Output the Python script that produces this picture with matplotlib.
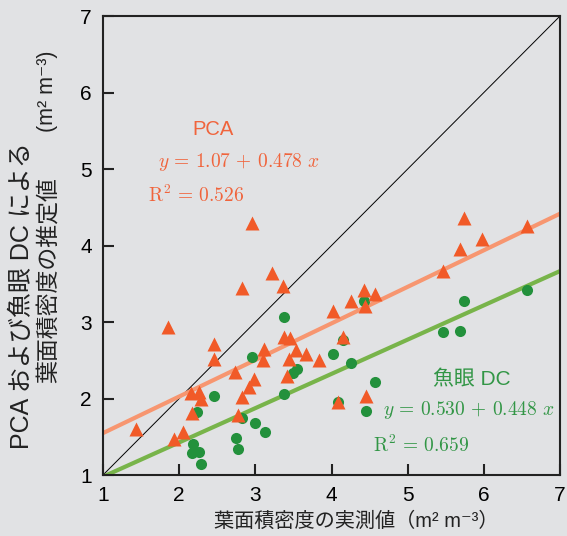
import matplotlib
matplotlib.use('Agg')
import matplotlib.pyplot as plt
import numpy as np

plt.rcParams['font.family'] = ['Liberation Sans', 'Noto Sans CJK JP', 'DejaVu Sans']
plt.rcParams['mathtext.fontset'] = 'cm'

# PCA estimates (triangles)
pca_x = [2.96, 3.22, 3.36, 2.83, 1.85, 2.46, 2.46, 3.37, 3.46, 3.12, 3.10, 3.44, 3.54,
         2.73, 2.98, 2.91, 3.42, 2.16, 2.26, 2.28, 2.82, 2.17, 2.77, 1.43, 2.05, 1.93,
         4.43, 4.57, 4.26, 4.44, 4.02, 4.15, 3.66, 3.83, 4.08, 4.45,
         5.74, 5.98, 5.69, 5.47, 6.57]
pca_y = [4.30, 3.64, 3.47, 3.45, 2.94, 2.71, 2.51, 2.81, 2.79, 2.65, 2.50, 2.51, 2.63,
         2.34, 2.26, 2.15, 2.29, 2.07, 2.09, 1.99, 2.02, 1.81, 1.78, 1.60, 1.56, 1.47,
         3.42, 3.36, 3.28, 3.21, 3.14, 2.81, 2.58, 2.50, 1.95, 2.03,
         4.36, 4.09, 3.96, 3.67, 4.25]

# fisheye DC estimates (circles)
dc_x = [3.37, 2.96, 2.46, 2.24, 2.82, 2.99, 3.13, 2.74, 2.77, 2.18, 2.17, 2.26, 2.29,
        3.38, 3.49, 3.55, 4.43, 4.15, 4.02, 4.26, 4.08, 4.57, 4.45,
        5.74, 6.57, 5.47, 5.69]
dc_y = [3.07, 2.54, 2.03, 1.83, 1.74, 1.68, 1.56, 1.49, 1.34, 1.41, 1.29, 1.30, 1.14,
        2.06, 2.33, 2.39, 3.28, 2.77, 2.58, 2.47, 1.95, 2.22, 1.84,
        3.28, 3.42, 2.87, 2.88]

# regression coefficients (intercept, slope)
pca_fit = (1.07, 0.478)
dc_fit = (0.530, 0.448)

bg = '#e1e2e4'
tri_col = '#f15a28'
pca_line = '#f79670'
pca_text = '#f0643c'
dot_col = '#23913c'
dc_line = '#78b44a'
dc_text = '#329646'
ink = '#222222'

fig = plt.figure(figsize=(5.67, 5.36), dpi=100, facecolor=bg)
ax = fig.add_axes([0.1817, 0.1138, 0.8060, 0.8563], facecolor=bg)

xs = np.array([1, 7])
ax.plot(xs, xs, color='black', lw=0.7, zorder=1)
ax.plot(xs, pca_fit[0] + pca_fit[1] * xs, color=pca_line, lw=3, zorder=2)
ax.plot(xs, dc_fit[0] + dc_fit[1] * xs, color=dc_line, lw=3, zorder=2)

ax.plot(dc_x, dc_y, 'o', color=dot_col, ms=8, mec='none', zorder=3)
ax.plot(pca_x, pca_y, '^', color=tri_col, ms=10, mec='none', zorder=4)

ax.set_xlim(1, 7)
ax.set_ylim(1, 7)
ax.set_xticks(range(1, 8))
ax.set_yticks(range(1, 8))
ax.tick_params(direction='in', length=8, width=1.5, labelsize=15, pad=8, color=ink)
for s in ax.spines.values():
    s.set_linewidth(1.5)
    s.set_color(ink)

# annotations
ax.text(2.45, 5.52, 'PCA', color=pca_text, fontsize=14.5, ha='center', va='center')
ax.text(2.78, 5.09, r'$y \,=\, 1.07 \,+\, 0.478\ x$', color=pca_text, fontsize=14,
        ha='center', va='center')
ax.text(1.59, 4.66, r'$\mathrm{R}^2 \,=\, 0.526$', color=pca_text, fontsize=14,
        ha='left', va='center')
ax.text(5.84, 2.24, '魚眼 DC', color=dc_text, fontsize=15, ha='center', va='center')
ax.text(5.80, 1.85, r'$y \,=\, 0.530 \,+\, 0.448\ x$', color=dc_text, fontsize=14,
        ha='center', va='center')
ax.text(4.55, 1.39, r'$\mathrm{R}^2 \,=\, 0.659$', color=dc_text, fontsize=14,
        ha='left', va='center')

# axis labels
fig.text(356 / 567, 1 - 521 / 536, '葉面積密度の実測値（m² m⁻³）', fontsize=14.5,
         ha='center', va='center', color=ink)
fig.text(22 / 567, 1 - 296 / 536, 'PCA および魚眼 DC による', fontsize=18, rotation=90,
         ha='center', va='center', color=ink)
fig.text(48 / 567, 1 - 280 / 536, '葉面積密度の推定値', fontsize=16.5, rotation=90,
         ha='center', va='center', color=ink)
fig.text(48 / 567, 1 - 91 / 536, '(m² m⁻³)', fontsize=15.5, rotation=90,
         ha='center', va='center', color=ink)

fig.savefig('out.png', dpi=100, facecolor=bg)
